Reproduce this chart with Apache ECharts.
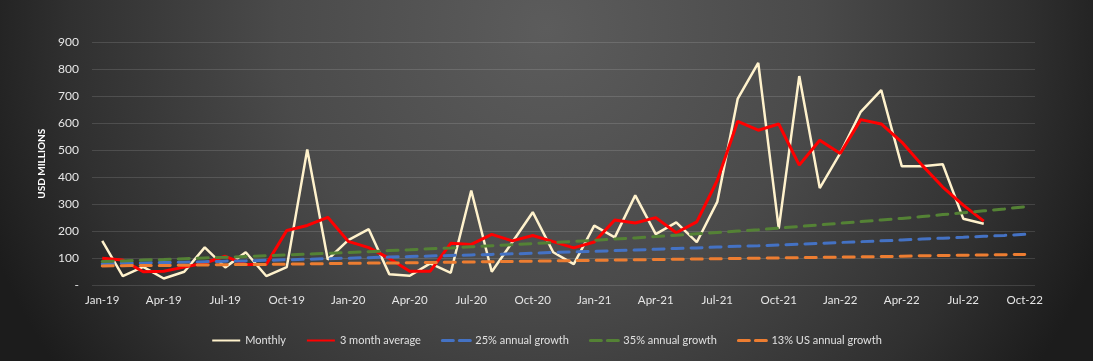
<!DOCTYPE html>
<html>
<head>
<meta charset="utf-8">
<script src="https://cdn.jsdelivr.net/npm/echarts@6/dist/echarts.min.js"></script>
<style>
html,body{margin:0;padding:0;background:#2a2a2a;}
#chart{width:1093px;height:361px;}
</style>
</head>
<body>
<div id="chart"></div>
<script>
var categories = ['Jan-19','Feb-19','Mar-19','Apr-19','May-19','Jun-19','Jul-19','Aug-19','Sep-19','Oct-19','Nov-19','Dec-19',
  'Jan-20','Feb-20','Mar-20','Apr-20','May-20','Jun-20','Jul-20','Aug-20','Sep-20','Oct-20','Nov-20','Dec-20',
  'Jan-21','Feb-21','Mar-21','Apr-21','May-21','Jun-21','Jul-21','Aug-21','Sep-21','Oct-21','Nov-21','Dec-21',
  'Jan-22','Feb-22','Mar-22','Apr-22','May-22','Jun-22','Jul-22','Aug-22','Sep-22','Oct-22'];

var monthly = [165,35,69,26,51,141,67,123,35,68,503,96,
  168,208,42,36,82,47,351,51,160,271,123,79,
  221,178,333,190,233,160,309,691,823,210,774,360,
  489,642,722,441,441,448,247,228];

var avg3 = [101,94,51,53,68,83,108,78,78,203,222,252,
  163,140,100,53,53,156,152,189,165,185,162,139,
  161,242,231,251,195,235,388,607,574,597,445,537,
  488,613,597,530,444,364,297,238];

var growth25 = [80,82,83,85,86,88,90,91,93,95,97,99,
  101,103,105,107,109,111,113,115,117,119,122,124,
  126,129,131,134,137,139,142,145,147,150,153,156,
  159,162,165,168,172,175,178,182,185,189];

var growth35 = [89,91,94,96,99,102,104,107,110,113,116,119,
  122,125,129,132,136,139,143,147,151,155,159,163,
  167,172,176,181,186,191,196,201,206,212,218,224,
  230,236,242,248,255,262,269,276,283,291];

var growth13 = [72,73,74,74,75,76,77,78,78,79,80,81,
  82,83,83,84,85,86,87,88,89,90,91,92,
  93,94,95,96,97,98,99,100,101,102,103,104,
  105,106,107,108,110,111,112,113,114,115];

var yTicks = [0,100,200,300,400,500,600,700,800,900];

var font = 'Lato, "Open Sans", sans-serif';
var chart = echarts.init(document.getElementById('chart'));

function dashed(name, data, color) {
  return {
    name: name, type: 'line', data: data, symbol: 'none',
    lineStyle: {color: color, width: 3, type: [11, 8], cap: 'round'},
    itemStyle: {color: color},
    z: 3
  };
}

function legendDash(name) {
  return {name: name, lineStyle: {type: [11, 6], width: 3}, itemStyle: {opacity: 0}};
}

chart.setOption({
  backgroundColor: {
    type: 'radial', x: 0.5, y: 0.08, r: 1.65,
    colorStops: [
      {offset: 0, color: '#5c5c5c'},
      {offset: 0.45, color: '#4a4a4a'},
      {offset: 0.8, color: '#303030'},
      {offset: 1, color: '#1c1c1c'}
    ]
  },
  animation: false,
  grid: {left: 92, right: 58, top: 42, bottom: 75.5, containLabel: false},
  legend: {
    bottom: 10, left: 'center',
    itemWidth: 28, itemHeight: 3, itemGap: 20,
    textStyle: {color: '#e0e0e0', fontSize: 11, fontFamily: font},
    data: [{name: 'Monthly', itemStyle: {opacity: 0}}, {name: '3 month average', itemStyle: {opacity: 0}},
      legendDash('25% annual growth'), legendDash('35% annual growth'), legendDash('13% US annual growth')]
  },
  xAxis: {
    type: 'category', data: categories, boundaryGap: true,
    axisLine: {show: false}, axisTick: {show: false},
    axisLabel: {interval: 2, color: '#e6e6e6', fontSize: 11.5, fontFamily: font, margin: 9}
  },
  yAxis: {
    type: 'value', min: yTicks[0], max: yTicks[yTicks.length - 1], interval: 100,
    name: 'USD MILLIONS', nameLocation: 'middle', nameGap: 43, nameRotate: 90,
    nameTextStyle: {color: '#ffffff', fontSize: 10, fontWeight: 'bold', fontFamily: font},
    axisLine: {show: false}, axisTick: {show: false},
    axisLabel: {
      color: '#e6e6e6', fontSize: 12, fontFamily: font, margin: 13,
      formatter: function (v) { return v === 0 ? '-' : String(v); }
    },
    splitLine: {lineStyle: {color: 'rgba(255,255,255,0.13)', width: 1}}
  },
  series: [
    {name: 'Monthly', type: 'line', data: monthly, symbol: 'none',
     lineStyle: {color: '#fff2cc', width: 2.5}, itemStyle: {color: '#fff2cc'}, z: 2},
    {name: '3 month average', type: 'line', data: avg3, symbol: 'none',
     lineStyle: {color: '#ff0000', width: 3}, itemStyle: {color: '#ff0000'}, z: 3},
    dashed('25% annual growth', growth25, '#4472c4'),
    dashed('35% annual growth', growth35, '#548235'),
    dashed('13% US annual growth', growth13, '#ed7d31')
  ]
});
</script>
</body>
</html>
